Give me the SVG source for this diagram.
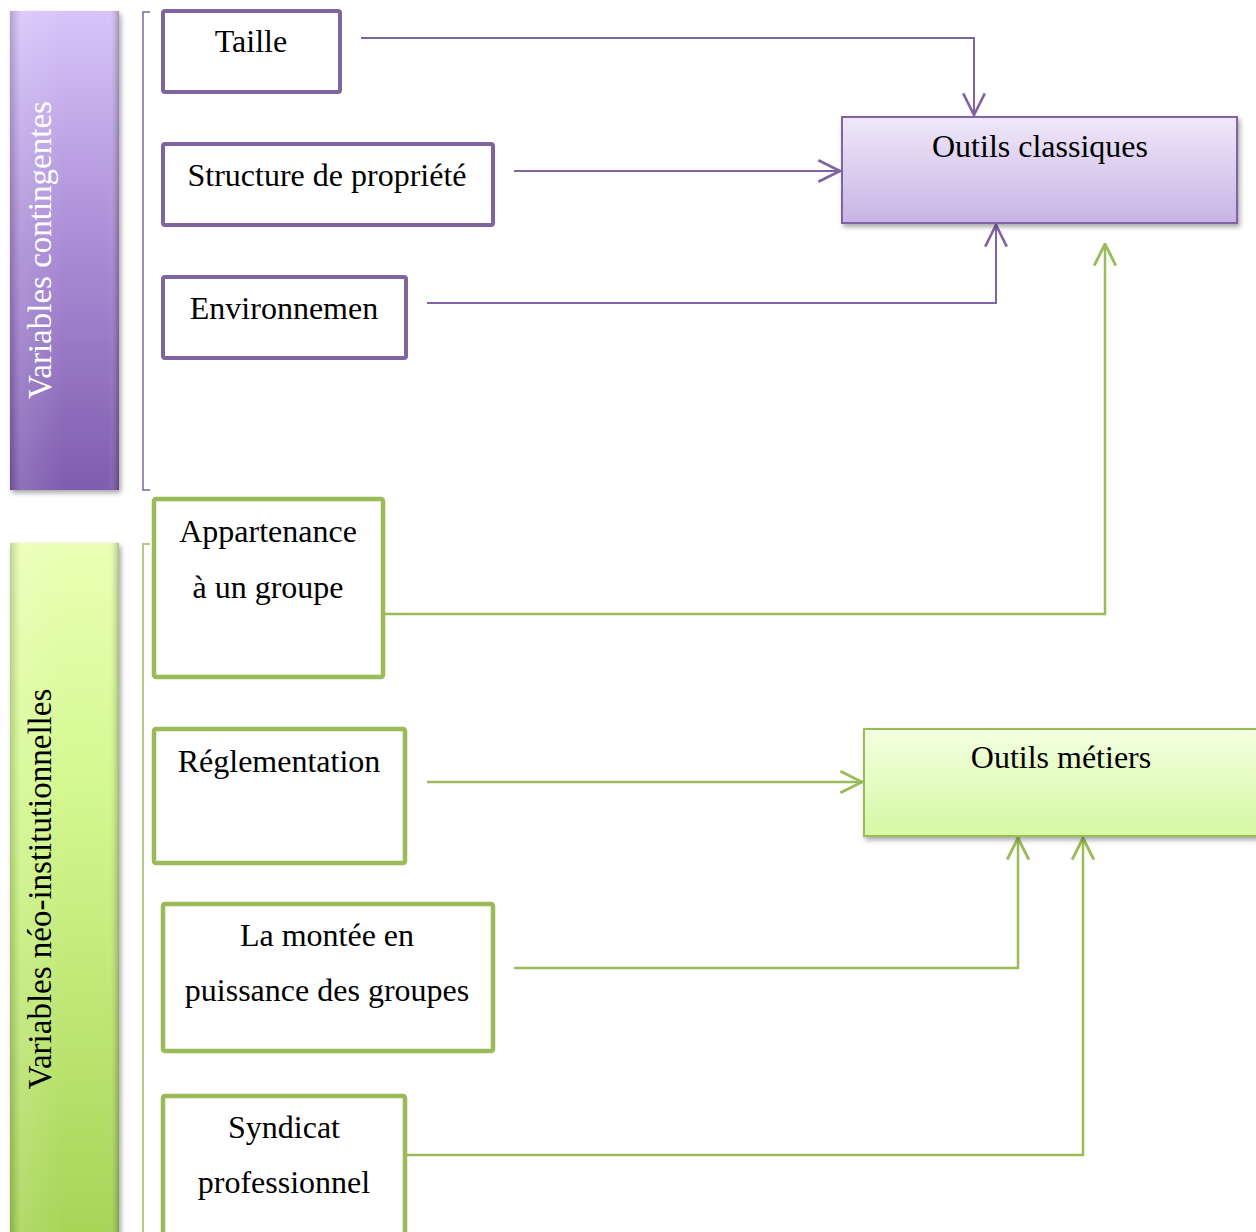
<svg xmlns="http://www.w3.org/2000/svg" width="1256" height="1232" viewBox="0 0 1256 1232">
<defs>
<linearGradient id="gPurpleBar" x1="0" y1="0" x2="0" y2="1">
<stop offset="0" stop-color="#d8c4fa"/>
<stop offset="0.45" stop-color="#ad90d8"/>
<stop offset="1" stop-color="#7f5db0"/>
</linearGradient>
<linearGradient id="gGreenBar" x1="0" y1="0" x2="0" y2="1">
<stop offset="0" stop-color="#eaffb4"/>
<stop offset="0.35" stop-color="#d4f890"/>
<stop offset="1" stop-color="#a6d456"/>
</linearGradient>
<linearGradient id="gBevel" x1="0" y1="0" x2="1" y2="0">
<stop offset="0" stop-color="#000" stop-opacity="0.18"/>
<stop offset="0.1" stop-color="#fff" stop-opacity="0.12"/>
<stop offset="0.5" stop-color="#fff" stop-opacity="0"/>
<stop offset="0.9" stop-color="#fff" stop-opacity="0"/>
<stop offset="1" stop-color="#000" stop-opacity="0.25"/>
</linearGradient>
<linearGradient id="gOC" x1="0" y1="0" x2="0" y2="1">
<stop offset="0" stop-color="#efe8f9"/>
<stop offset="1" stop-color="#c7b3e4"/>
</linearGradient>
<linearGradient id="gOM" x1="0" y1="0" x2="0" y2="1">
<stop offset="0" stop-color="#f3ffe0"/>
<stop offset="1" stop-color="#d6f8a4"/>
</linearGradient>
<filter id="shadow" x="-10%" y="-10%" width="120%" height="120%">
<feDropShadow dx="2" dy="3" stdDeviation="2.5" flood-color="#000" flood-opacity="0.35"/>
</filter>
<marker id="aP" markerUnits="userSpaceOnUse" markerWidth="24" markerHeight="24" viewBox="0 0 20 20" refX="19" refY="10" orient="auto">
<path d="M1,1 L19,10 L1,19" fill="none" stroke="#8064a2" stroke-width="2.2"/>
</marker>
<marker id="aG" markerUnits="userSpaceOnUse" markerWidth="24" markerHeight="24" viewBox="0 0 20 20" refX="19" refY="10" orient="auto">
<path d="M1,1 L19,10 L1,19" fill="none" stroke="#9bbb59" stroke-width="2.4"/>
</marker>
</defs>
<style>
.t{font-family:"Liberation Serif","Times New Roman",serif;font-size:32px;fill:#000;text-anchor:middle}
.side{font-family:"Liberation Serif","Times New Roman",serif;font-size:33px;text-anchor:middle}
.pbox{fill:#fff;stroke:#8064a2;stroke-width:4}
.gbox{fill:#fff;stroke:#9bbb59;stroke-width:4.5}
.pc{fill:none;stroke:#8064a2;stroke-width:2}
.gc{fill:none;stroke:#9bbb59;stroke-width:2.5}
</style>
<rect width="1256" height="1232" fill="#fff"/>

<g id="bar-contingentes">
<rect x="10" y="11" width="109" height="479" fill="url(#gPurpleBar)" filter="url(#shadow)"/>
<rect x="10" y="11" width="109" height="479" fill="url(#gBevel)"/>
<text class="side" fill="#fff" transform="translate(51,250) rotate(-90)">Variables contingentes</text>
</g>
<g id="bar-neo">
<rect x="10" y="543" width="109" height="700" fill="url(#gGreenBar)" filter="url(#shadow)"/>
<rect x="10" y="543" width="109" height="700" fill="url(#gBevel)"/>
<text class="side" fill="#000" transform="translate(51,889) rotate(-90)">Variables néo-institutionnelles</text>
</g>

<g id="brackets">
<path d="M150,12 H143 V490 H150" fill="none" stroke="#8064a2" stroke-width="1.5"/>
<path d="M150,544 H143 V1232" fill="none" stroke="#9bbb59" stroke-width="1.5"/>
</g>

<g id="connectors">
<path class="pc" d="M361,38 H974 V115" marker-end="url(#aP)"/>
<path class="pc" d="M514,171 H840" marker-end="url(#aP)"/>
<path class="pc" d="M427,303 H996 V225" marker-end="url(#aP)"/>
<path class="gc" d="M383,614 H1105 V244" marker-end="url(#aG)"/>
<path class="gc" d="M427,782 H862" marker-end="url(#aG)"/>
<path class="gc" d="M514,968 H1018 V838" marker-end="url(#aG)"/>
<path class="gc" d="M405,1155 H1083 V838" marker-end="url(#aG)"/>
</g>

<g id="taille">
<rect class="pbox" x="163" y="11" width="177" height="81" rx="2"/>
<text class="t" x="251" y="52">Taille</text>
</g>
<g id="structure">
<rect class="pbox" x="163" y="144" width="330" height="81" rx="2"/>
<text class="t" x="327" y="186">Structure de propriété</text>
</g>
<g id="environnement">
<rect class="pbox" x="163" y="277" width="243" height="81" rx="2"/>
<text class="t" x="284" y="319">Environnemen</text>
</g>

<g id="appartenance">
<rect class="gbox" x="154" y="499" width="229" height="178" rx="2"/>
<text class="t" x="268" y="542">Appartenance</text>
<text class="t" x="268" y="598">à un groupe</text>
</g>
<g id="reglementation">
<rect class="gbox" x="154" y="729" width="251" height="134" rx="2"/>
<text class="t" x="279" y="772">Réglementation</text>
</g>
<g id="montee">
<rect class="gbox" x="163" y="904" width="330" height="147" rx="2"/>
<text class="t" x="327" y="946">La montée en</text>
<text class="t" x="327" y="1001">puissance des groupes</text>
</g>
<g id="syndicat">
<rect class="gbox" x="163" y="1096" width="242" height="150" rx="2"/>
<text class="t" x="284" y="1138">Syndicat</text>
<text class="t" x="284" y="1193">professionnel</text>
</g>

<g id="outils-classiques">
<rect x="842" y="117" width="395" height="106" fill="url(#gOC)" stroke="#8064a2" stroke-width="2" filter="url(#shadow)"/>
<text class="t" x="1040" y="157">Outils classiques</text>
</g>
<g id="outils-metiers">
<rect x="864" y="729" width="400" height="107" fill="url(#gOM)" stroke="#9bbb59" stroke-width="2" filter="url(#shadow)"/>
<text class="t" x="1061" y="768">Outils métiers</text>
</g>
</svg>
